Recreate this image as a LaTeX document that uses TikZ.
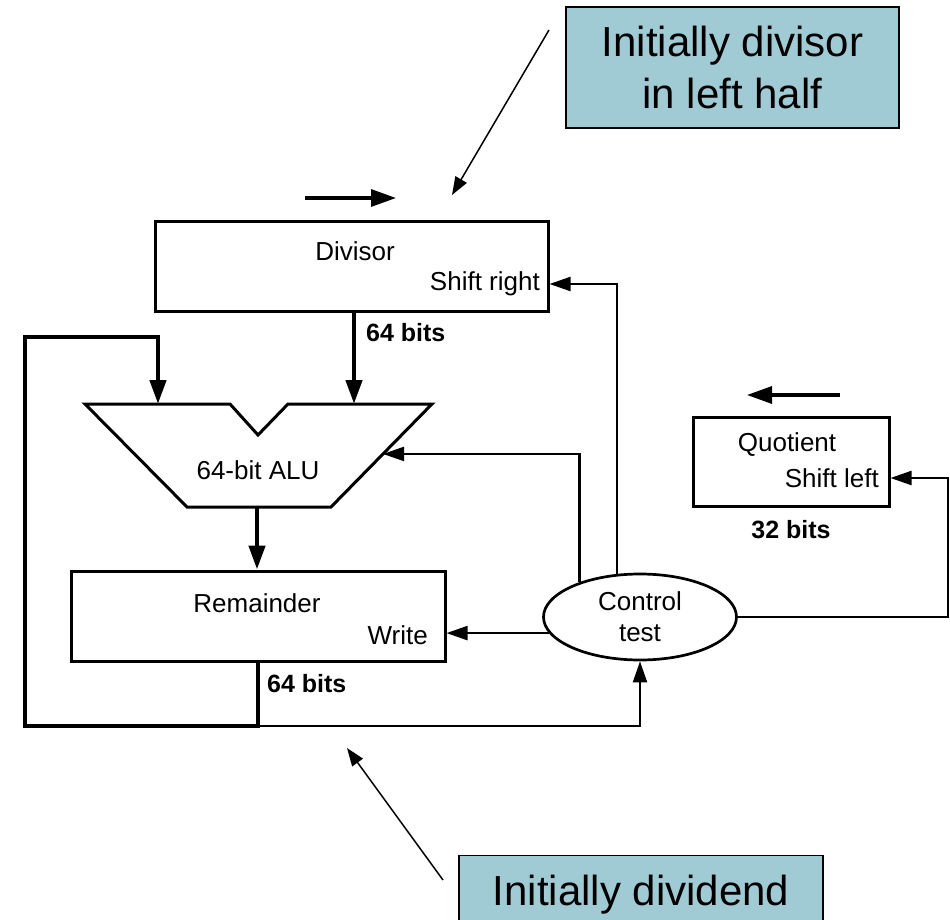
\documentclass[tikz,border=0pt]{standalone}
\usepackage{fontspec}
\setmainfont{Liberation Sans}
\usetikzlibrary{shapes.geometric,arrows.meta,calc}
\definecolor{calloutfill}{RGB}{161,203,212}
\begin{document}
\begin{tikzpicture}[x=1pt,y=-1pt,
  regbox/.style={draw, line width=3pt, inner sep=0pt},
  lbl/.style={font=\fontsize{26}{31}\selectfont, inner sep=0pt},
  bitlbl/.style={font=\bfseries\fontsize{25}{30}\selectfont, inner sep=0pt},
  bus/.style={line width=4.5pt},
  ctl/.style={line width=2.2pt},
  bustip/.style={-{Triangle[length=24pt,width=16pt]}},
  ctltip/.style={-{Triangle[length=21pt,width=14pt]}},
  note/.style={draw, line width=1.2pt, fill=calloutfill, inner sep=0pt,
    font=\fontsize{42}{52}\selectfont, align=center},
  pointer/.style={line width=1.5pt, -{Triangle[length=18pt,width=13pt]}}]

\useasboundingbox (0,0) rectangle (950,920);
\clip (0,0) rectangle (950,920);

% registers
\node[regbox, minimum width=393, minimum height=90] (div) at (351.5,266) {};
\node[lbl] (divname) at (355,251) {Divisor};
\node[lbl, anchor=east] (divsh) at (540,284) {Shift right};

\node[regbox, minimum width=374, minimum height=90] (rem) at (258,616) {};
\node[lbl] (remname) at (257,603) {Remainder};
\node[lbl, anchor=east] (remwr) at (428,635) {Write};

\node[regbox, minimum width=196, minimum height=89] (quo) at (791,462) {};
\node[lbl] (quoname) at (787,445) {Quotient};
\node[lbl, anchor=east] (quosh) at (879,478) {Shift left};

% control unit
\node[draw, ellipse, line width=2.7pt, minimum width=193, minimum height=86,
      inner sep=0pt, align=center, font=\fontsize{26}{31}\selectfont]
      (ctl) at (640,617) {Control\\test};

% ALU outline
\draw[line width=3pt, line join=miter]
  (85,404) coordinate (aluTL) -- (230,404) -- (258,435) coordinate (notch)
  -- (288,404) -- (432,404) coordinate (aluTR) -- (331,507) coordinate (aluBR)
  -- (187,507) coordinate (aluBL) -- cycle;
\node[lbl] (alu) at (258,470) {64-bit ALU};
\coordinate (aluInL) at (158,404);
\coordinate (aluInR) at (354,404);
\coordinate (aluOut) at (257,507);
\coordinate (aluCtl) at ($(aluTR)!0.485!(aluBR)$);

% data paths
\draw[bus, bustip] (div.south -| aluInR) -- (aluInR);
\node[bitlbl, anchor=west] (divbits) at (366,333) {64 bits};
\draw[bus, bustip] (aluOut) -- (aluOut |- rem.north);
\coordinate (loopB) at (258,726);
\draw[bus, bustip, line join=miter] (rem.south -| loopB) -- (loopB) -- (25,726)
  -- (25,337) -| (aluInL);
\node[bitlbl, anchor=west] (rembits) at (267,684) {64 bits};
\node[bitlbl] (quobits) at (791,530) {32 bits};

% control paths
\draw[ctl, ctltip] (loopB) -| (ctl.south);
\draw[ctl, ctltip] (ctl.190) -- (ctl.190 -| rem.east);
\draw[ctl, ctltip] (ctl.150.7) |- (aluCtl);
\draw[ctl, ctltip] (ctl.118.8) |- (div.east |- divsh);
\coordinate (qturn) at (948,617);
\draw[ctl, ctltip] (ctl.east |- qturn) -- (qturn) |- (quo.east |- quosh);

% shift direction marks
\coordinate (rs0) at (305,198);
\coordinate (rs1) at (396,198);
\draw[line width=3.2pt, -{Triangle[length=25pt,width=17pt]}] (rs0) -- (rs1);
\coordinate (ls0) at (840,395);
\coordinate (ls1) at (747,395);
\draw[line width=3.2pt, -{Triangle[length=25pt,width=17pt]}] (ls0) -- (ls1);

% annotations
\node[note, minimum width=333, minimum height=121] (n1) at (732.5,67.5)
  {Initially divisor\\in left half};
\coordinate (p1s) at (549,30);
\coordinate (p1e) at (452,195);
\draw[pointer] (p1s) -- (p1e);

\node[note, minimum width=364, minimum height=100, anchor=north] (n2) at (641,855) {};
\node[font=\fontsize{42}{52}\selectfont, inner sep=0pt, anchor=base] (n2txt)
  at (641,905) {Initially dividend};
\coordinate (p2s) at (443,880);
\coordinate (p2e) at (347,748);
\draw[pointer] (p2s) -- (p2e);

\end{tikzpicture}
\end{document}
